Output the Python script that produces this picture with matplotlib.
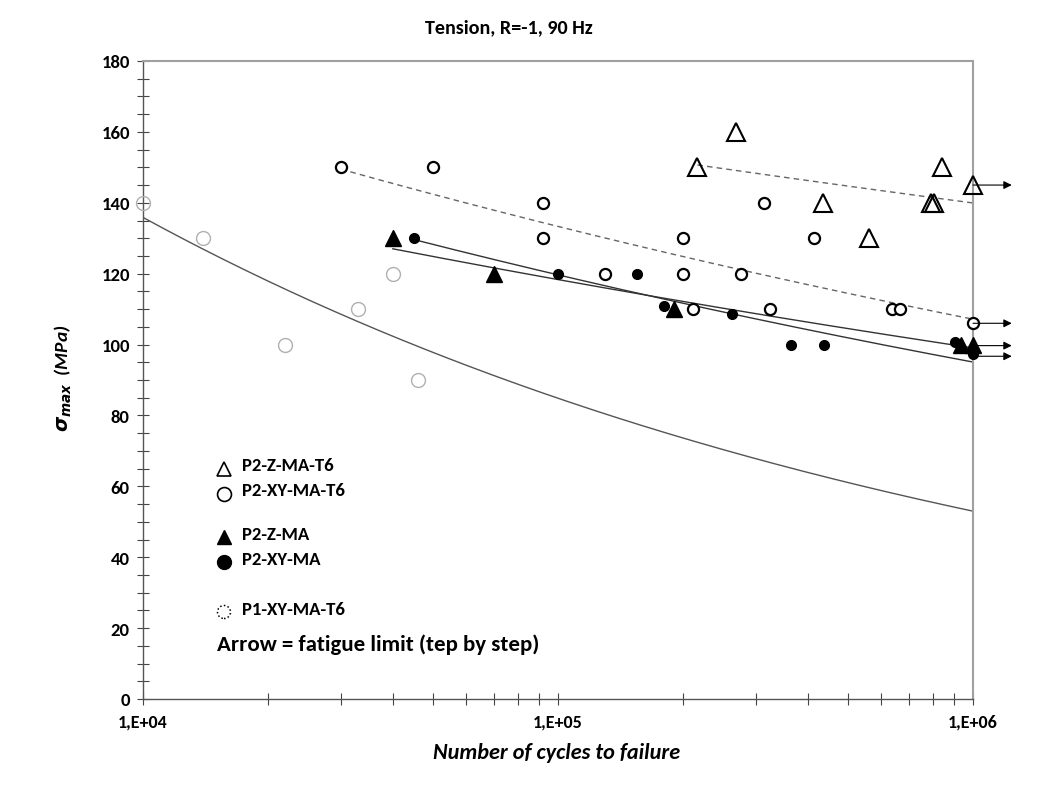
import numpy as np
import matplotlib
matplotlib.use('Agg')
import matplotlib.pyplot as plt
from matplotlib import font_manager as fm
from matplotlib.ticker import MultipleLocator, FixedLocator, FixedFormatter, NullFormatter
from matplotlib.patches import Ellipse

_names = set(e.name for e in fm.fontManager.ttflist)
MAIN = 'Carlito' if 'Carlito' in _names else 'Lato'
WT = 'heavy'
plt.rcParams['font.family'] = [MAIN, 'DejaVu Sans']
plt.rcParams['font.weight'] = WT
plt.rcParams['mathtext.fontset'] = 'custom'
plt.rcParams['mathtext.it'] = 'DejaVu Sans:italic:bold'
plt.rcParams['mathtext.rm'] = 'DejaVu Sans:bold'

# ---- data ----
z_t6_n = [216700, 268000, 435000, 561000, 790000, 805000, 840000, 1000000]
z_t6_s = [150, 160, 140, 130, 140, 140, 150, 145]

xy_t6_n = [30000, 50000, 92000, 92000, 130000, 200000, 200000, 276000,
           211000, 313000, 414000, 325000, 637000, 667000, 1000000]
xy_t6_s = [150, 150, 140, 130, 120, 130, 120, 120,
           110, 140, 130, 110, 110, 110, 106]

z_ma_n = [40000, 70000, 190000, 934000, 1000000]
z_ma_s = [130, 120, 110, 100, 100]

xy_ma_n = [45000, 100000, 155000, 180000, 263000, 364000, 438000, 906000, 1000000]
xy_ma_s = [130, 120, 120, 111, 108.5, 100, 100, 100.7, 97.3]
xy_ma_runout = [0, 0, 0, 0, 0, 0, 0, 0, 1]

p1_n = [10000, 13950, 22000, 32900, 40000, 46000]
p1_s = [140, 130, 100, 110, 120, 90]

runout_n = 1000000
runout_s = [145, 106, 99.7, 96.7]

legend_labels = ['P2-Z-MA-T6', 'P2-XY-MA-T6', 'P2-Z-MA', 'P2-XY-MA', 'P1-XY-MA-T6']
xtick_vals = [1e4, 1e5, 1e6]
xtick_labels = ['1,E+04', '1,E+05', '1,E+06']


def power_fit(n, s):
    b, a = np.polyfit(np.log(n), np.log(s), 1)
    return np.exp(a), b


W, H = 1046, 812
fig = plt.figure(figsize=(W / 100, H / 100), dpi=100)
L, R, T, B = 143, 973, 62, 700
ax = fig.add_axes([L / W, 1 - B / H, (R - L) / W, (B - T) / H])

ax.set_xscale('log')
ax.set_xlim(1e4, 1e6)
ax.set_ylim(0, 180)


def trend(n, s, x0, style):
    A, b = power_fit(n, s)
    xx = np.geomspace(x0, 1e6, 300)
    ax.plot(xx, A * xx ** b, **style, zorder=2)


xy_ma_fit_n = [n for n, r in zip(xy_ma_n, xy_ma_runout) if not r]
xy_ma_fit_s = [s for s, r in zip(xy_ma_s, xy_ma_runout) if not r]

trend(p1_n, p1_s, 1e4, dict(color='#555555', lw=1.0))
trend(xy_t6_n, xy_t6_s, min(xy_t6_n), dict(color='#666666', lw=1.0, ls=(0, (4, 3))))
trend(z_t6_n, z_t6_s, min(z_t6_n), dict(color='#666666', lw=1.0, ls=(0, (4, 3))))
trend(z_ma_n, z_ma_s, min(z_ma_n), dict(color='#333333', lw=1.0))
trend(xy_ma_fit_n, xy_ma_fit_s, min(xy_ma_n), dict(color='#333333', lw=1.0))

# points
ax.plot(p1_n, p1_s, 'o', ms=10, mfc='none', mec='#b0b0b0', mew=1.0, zorder=3, clip_on=False)
ax.plot(xy_t6_n, xy_t6_s, 'o', ms=8, mfc='white', mec='black', mew=1.6, zorder=4, clip_on=False)
ax.plot(z_t6_n, z_t6_s, '^', ms=13, mfc='none', mec='black', mew=1.5, zorder=4, clip_on=False)
ax.plot(xy_ma_n, xy_ma_s, 'o', ms=7, mfc='black', mec='black', zorder=4, clip_on=False)
ax.plot(z_ma_n, z_ma_s, '^', ms=11, mfc='black', mec='black', zorder=5, clip_on=False)

# run-out arrows
for s in runout_s:
    ax.annotate('', xy=(runout_n * 1.24, s), xytext=(runout_n, s),
                arrowprops=dict(arrowstyle='-|>', color='black', lw=0.8,
                                mutation_scale=12, shrinkA=0, shrinkB=0),
                annotation_clip=False, zorder=6)

# axes styling
for side in ['top', 'right']:
    ax.spines[side].set_color('#a0a0a0')
    ax.spines[side].set_linewidth(1.5)
for side in ['left', 'bottom']:
    ax.spines[side].set_color('#555555')
    ax.spines[side].set_linewidth(1.0)

ax.yaxis.set_major_locator(MultipleLocator(20))
ax.yaxis.set_minor_locator(MultipleLocator(5))
ax.xaxis.set_major_locator(FixedLocator(xtick_vals))
ax.xaxis.set_major_formatter(FixedFormatter(xtick_labels))
ax.xaxis.set_minor_locator(FixedLocator([m * 10 ** k for k in (4, 5) for m in range(2, 10)]))
ax.xaxis.set_minor_formatter(NullFormatter())
ax.tick_params(which='both', direction='inout', length=9, width=0.8, color='#444444')
ax.tick_params(axis='x', which='major', labelsize=13, pad=6)
ax.tick_params(axis='y', which='major', labelsize=13.5, pad=5)
ax.tick_params(right=False, top=False)

# titles and labels
fig.text(509 / W, 1 - 28 / H, 'Tension, R=-1, 90 Hz', ha='center', va='center',
         fontsize=14.5, fontweight=WT)
fig.text(557 / W, 1 - 753 / H, 'Number of cycles to failure', ha='center', va='center',
         fontsize=16, fontweight=WT, fontstyle='italic')
fig.text(63 / W, 1 - 378 / H, r'$\sigma_{max}$  (MPa)', ha='center', va='center',
         rotation=90, fontsize=14, fontweight=WT, fontstyle='italic')


def ax_xy(px, py):
    return (px - L) / (R - L), (B - py) / (B - T)


leg_marker_y = [470, 495, 538, 563, 613]
leg_text_y = [466, 491, 535, 560, 610]
mx = 224
styles = [
    dict(marker='^', ms=10, mfc='none', mec='black', mew=1.2),
    dict(marker='o', ms=10, mfc='none', mec='black', mew=1.2),
    dict(marker='^', ms=10, mfc='black', mec='black'),
    dict(marker='o', ms=10, mfc='black', mec='black'),
]
for i, st in enumerate(styles):
    x, y = ax_xy(mx, leg_marker_y[i])
    ax.plot([x], [y], transform=ax.transAxes, ls='none', clip_on=False, **st)
x, y = ax_xy(mx, leg_marker_y[4])
ax.add_patch(Ellipse((x, y), 13 / (R - L), 13 / (B - T), transform=ax.transAxes,
                     fill=False, ec='black', lw=1.1, ls=(0, (1, 1.5)), clip_on=False))
for i, lab in enumerate(legend_labels):
    fig.text(242 / W, 1 - leg_text_y[i] / H, lab, ha='left', va='center',
             fontsize=13.5, fontweight=WT)
fig.text(217 / W, 1 - 645 / H, 'Arrow = fatigue limit (tep by step)', ha='left', va='center',
         fontsize=16.5, fontweight=WT)

fig.savefig('out.png', dpi=100)
